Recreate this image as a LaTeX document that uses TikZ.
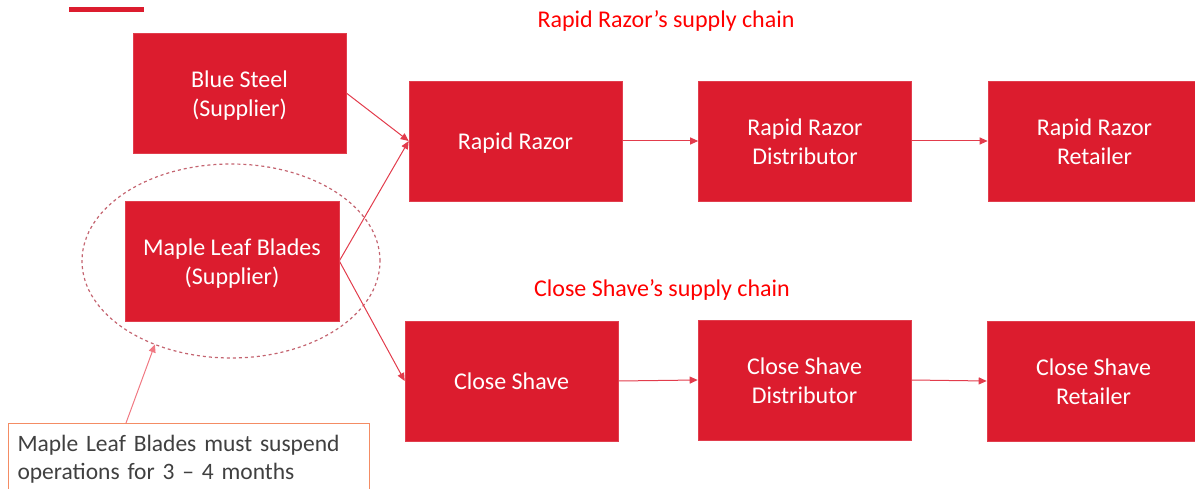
\documentclass[tikz,border=0pt]{standalone}
\usepackage{fontspec}
\setmainfont{Carlito}
\usetikzlibrary{arrows.meta,shapes.geometric,calc}
\definecolor{boxred}{RGB}{220,28,46}
\definecolor{linkred}{RGB}{226,60,76}
\definecolor{ellred}{RGB}{196,100,112}
\definecolor{callpink}{RGB}{240,120,130}
\definecolor{callborder}{RGB}{244,140,100}
\definecolor{calltext}{RGB}{64,64,64}
\newcommand{\boxtxt}[1]{\raisebox{-3pt}[\height][\depth]{\begin{tabular}{@{}c@{}}#1\end{tabular}}}
\tikzset{
  chainbox/.style={rectangle, fill=boxred, draw=boxred!85!white, line width=0.6pt,
    minimum width=213pt, minimum height=120pt, text=white,
    font=\fontsize{24}{29}\selectfont, inner sep=0pt},
  link/.style={draw=linkred, line width=1pt, -{Triangle[length=8pt,width=7pt]}},
  chaintitle/.style={text=red, font=\fontsize{24}{28}\selectfont, inner sep=0pt},
  callout/.style={rectangle, draw=callborder, line width=1pt, anchor=north west,
    minimum width=361pt, minimum height=72pt, text width=343pt, align=left,
    inner xsep=9pt, text=calltext, font=\fontsize{23.5}{28}\selectfont},
  supellipse/.style={ellipse, draw=ellred, dashed, line width=1.2pt,
    minimum width=298pt, minimum height=194pt, inner sep=0pt}
}
\begin{document}
\begin{tikzpicture}[x=1pt,y=-1pt]
\useasboundingbox (0,0) rectangle (1195,489);
% top-left accent bar
\node[rectangle, fill=boxred, minimum width=75pt, minimum height=5pt, inner sep=0pt, anchor=north west] (bar) at (69,7) {};
% titles
\node[chaintitle] (t1) at (666,21) {Rapid Razor’s supply chain};
\node[chaintitle] (t2) at (662,290) {Close Shave’s supply chain};
% suppliers
\node[chainbox] (bs) at (239.5,93) {\boxtxt{Blue Steel\\(Supplier)}};
\node[chainbox, minimum width=214pt] (ml) at (232,261) {\boxtxt{Maple Leaf Blades\\(Supplier)}};
% ellipse
\node[supellipse] (ell) at (231,261) {};
% top chain
\node[chainbox] (rr) at (515.5,141) {\boxtxt{Rapid Razor}};
\node[chainbox] (rrd) at (805,141) {\boxtxt{Rapid Razor\\Distributor}};
\node[chainbox] (rrr) at (1094.5,141) {\boxtxt{Rapid Razor\\Retailer}};
% bottom chain
\node[chainbox] (cs) at (511.5,381) {\boxtxt{Close Shave}};
\node[chainbox] (csd) at (804.5,380) {\boxtxt{Close Shave\\Distributor}};
\node[chainbox] (csr) at (1093.5,381) {\boxtxt{Close Shave\\Retailer}};
% callout
\node[callout] (co) at (8,423) {Maple Leaf Blades must suspend\\operations for 3 – 4 months};
\coordinate (costart) at ($(co.north west)+(118,0)$);
\coordinate (ellpt) at ($(ell.center)+({149*cos(120.7)},{97*sin(120.7)})$);
% connectors
\draw[link] (bs.east) -- (rr.west);
\draw[link] (ml.east) -- (rr.west);
\draw[link] (ml.east) -- (cs.west);
\draw[link] (rr.east) -- (rrd.west);
\draw[link] (rrd.east) -- (rrr.west);
\draw[link] (cs.east) -- (csd.west);
\draw[link] (csd.east) -- (csr.west);
\draw[link, draw=callpink] (costart) -- (ellpt);
\end{tikzpicture}
\end{document}
